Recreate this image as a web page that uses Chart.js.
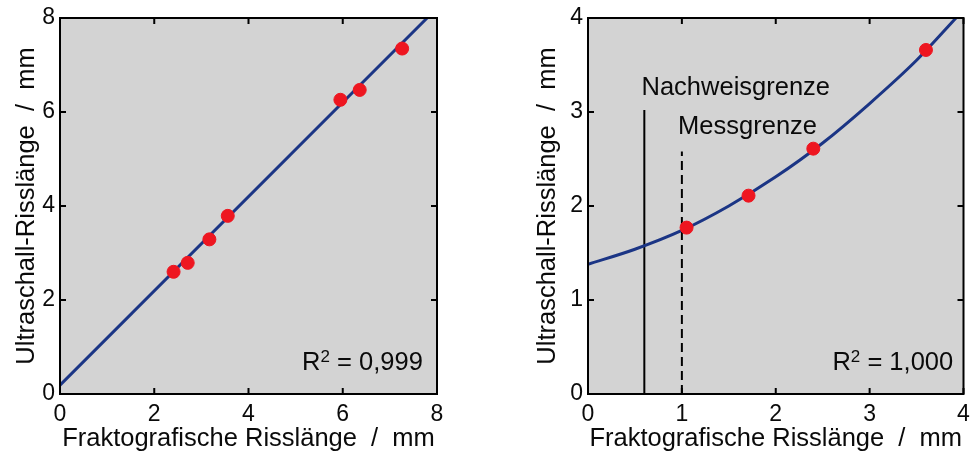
<!DOCTYPE html>
<html>
<head>
<meta charset="utf-8">
<script src="https://cdn.jsdelivr.net/npm/chart.js@4.4.0/dist/chart.umd.min.js"></script>
<style>
    body { margin: 0; background: #fff; width: 971px; height: 455px; position: relative; overflow: hidden; }
    canvas { position: absolute; top: 0; }
</style>
</head>
<body>
<canvas id="links" width="480" height="455" style="left:0px"></canvas>
<canvas id="rechts" width="450" height="455" style="left:521px"></canvas>
<script>
// linke Grafik - Messpunkte und Ausgleichsgerade
var linksX = [2.41, 2.71, 3.17, 3.56, 5.95, 6.36, 7.26];
var linksY = [2.60, 2.79, 3.29, 3.79, 6.26, 6.47, 7.35];
var linksFitX = [0, 7.79];
var linksFitY = [0.19, 8.0];
var linksTicks = [0, 2, 4, 6, 8];

// rechte Grafik - Messpunkte und Ausgleichskurve
var rechtsX = [1.05, 1.71, 2.40, 3.60];
var rechtsY = [1.77, 2.11, 2.61, 3.66];
var rechtsFitX = [0, 0.5, 1, 1.5, 2, 2.5, 3, 3.5, 3.92];
var rechtsFitY = [1.38, 1.54, 1.74, 2.00, 2.31, 2.67, 3.09, 3.55, 4.0];
var rechtsTicks = [0, 1, 2, 3, 4];
// Grenzen (x-Wert, Linienende oben)
var nachweisGrenze = [0.6, 3.02];
var messGrenze = [1.0, 2.58];

var xTitel = "Fraktografische Risslänge  /  mm";
var yTitel = "Ultraschall-Risslänge  /  mm";

Chart.defaults.font.family = '"Liberation Sans", Arial, sans-serif';
Chart.defaults.color = '#0a0a0a';

var schrift = '"Liberation Sans", Arial, sans-serif';

function punkte(xs, ys) {
    return xs.map(function (x, i) { return {x: x, y: ys[i]}; });
}

// R^2-Text mit hochgestellter 2, rechtsbündig
function zeichneR2(ctx, wert, xr, y) {
    var gross = '25.5px ' + schrift, klein = '17px ' + schrift;
    var rest = ' = ' + wert;
    ctx.font = gross;
    var wR = ctx.measureText('R').width, wRest = ctx.measureText(rest).width;
    ctx.font = klein;
    var w2 = ctx.measureText('2').width;
    var x = xr - wR - w2 - wRest;
    ctx.textAlign = 'left';
    ctx.font = gross;
    ctx.fillText('R', x, y);
    ctx.font = klein;
    ctx.fillText('2', x + wR, y - 6);
    ctx.font = gross;
    ctx.fillText(rest, x + wR + w2, y);
}

var rahmenPlugin = {
    id: 'rahmen',
    beforeDraw: function (chart) {
        var a = chart.chartArea, ctx = chart.ctx;
        ctx.save();
        ctx.fillStyle = '#d3d3d3';
        ctx.fillRect(a.left, a.top, a.right - a.left, a.bottom - a.top);
        ctx.restore();
    },
    afterDatasetsDraw: function (chart, args, opts) {
        var a = chart.chartArea, ctx = chart.ctx;
        var sx = chart.scales.x, sy = chart.scales.y;
        ctx.save();
        ctx.strokeStyle = '#000';
        ctx.lineWidth = 2;
        ctx.strokeRect(a.left, a.top, a.right - a.left, a.bottom - a.top);
        // Ticks nach innen, alle vier Seiten
        ctx.beginPath();
        sx.ticks.forEach(function (t) {
            var p = sx.getPixelForValue(t.value);
            ctx.moveTo(p, a.bottom); ctx.lineTo(p, a.bottom - 6);
            ctx.moveTo(p, a.top); ctx.lineTo(p, a.top + 6);
        });
        sy.ticks.forEach(function (t) {
            var p = sy.getPixelForValue(t.value);
            ctx.moveTo(a.left, p); ctx.lineTo(a.left + 6, p);
            ctx.moveTo(a.right, p); ctx.lineTo(a.right - 6, p);
        });
        ctx.stroke();
        // Beschriftungen
        ctx.fillStyle = '#0a0a0a';
        ctx.font = '25.5px ' + schrift;
        ctx.textBaseline = 'middle';
        (opts.texte || []).forEach(function (t) {
            ctx.textAlign = t.align;
            ctx.fillText(t.text, sx.getPixelForValue(t.x), sy.getPixelForValue(t.y));
        });
        if (opts.r2) {
            zeichneR2(ctx, opts.r2.wert, sx.getPixelForValue(opts.r2.x), sy.getPixelForValue(opts.r2.y));
        }
        ctx.restore();
    }
};

function makeScales(xmax, ymax, step, yBreite) {
    return {
        x: {
            type: 'linear', min: 0, max: xmax,
            ticks: {stepSize: step, maxRotation: 0, padding: 7, font: {size: 23}},
            grid: {display: false, drawTicks: false},
            border: {display: false},
            title: {display: true, text: xTitel, font: {size: 25.5}, padding: {top: 0, bottom: 1}},
            afterFit: function (s) { s.height = 61; s.paddingLeft = 0; s.paddingRight = 0; }
        },
        y: {
            type: 'linear', min: 0, max: ymax,
            ticks: {stepSize: step, padding: 5, font: {size: 23}},
            grid: {display: false, drawTicks: false},
            border: {display: false},
            title: {display: true, text: yTitel, font: {size: 25.5}, padding: {top: 12, bottom: 0}},
            afterFit: function (s) { s.width = yBreite; s.paddingTop = 0; s.paddingBottom = 0; }
        }
    };
}

var blau = '#1b3585';
var rot = '#ee1620';

new Chart(document.getElementById('links'), {
    type: 'scatter',
    data: {
        datasets: [{
                data: punkte(linksX, linksY),
                backgroundColor: rot, borderColor: rot,
                pointRadius: 6.5, order: 0
            }, {
                data: punkte(linksFitX, linksFitY),
                showLine: true, borderColor: blau, borderWidth: 3,
                pointRadius: 0, order: 1
            }]
    },
    options: {
        responsive: false, animation: false, devicePixelRatio: 1,
        layout: {padding: {top: 18, right: 43, left: 0, bottom: 0}},
        scales: makeScales(8, 8, 2, 60),
        plugins: {
            legend: {display: false}, tooltip: {enabled: false},
            rahmen: {r2: {wert: '0,999', x: 7.7, y: 0.66}}
        }
    },
    plugins: [rahmenPlugin]
});

new Chart(document.getElementById('rechts'), {
    type: 'scatter',
    data: {
        datasets: [{
                data: punkte(rechtsX, rechtsY),
                backgroundColor: rot, borderColor: rot,
                pointRadius: 6.5, order: 0
            }, {
                data: punkte(rechtsFitX, rechtsFitY),
                showLine: true, borderColor: blau, borderWidth: 3,
                cubicInterpolationMode: 'monotone',
                pointRadius: 0, order: 1
            }, {
                data: [{x: nachweisGrenze[0], y: 0}, {x: nachweisGrenze[0], y: nachweisGrenze[1]}],
                showLine: true, borderColor: '#000', borderWidth: 2,
                pointRadius: 0, order: 2
            }, {
                data: [{x: messGrenze[0], y: 0}, {x: messGrenze[0], y: messGrenze[1]}],
                showLine: true, borderColor: '#000', borderWidth: 2, borderDash: [9, 5],
                pointRadius: 0, order: 2
            }]
    },
    options: {
        responsive: false, animation: false, devicePixelRatio: 1,
        layout: {padding: {top: 18, right: 6, left: 0, bottom: 0}},
        scales: makeScales(4, 4, 1, 67),
        plugins: {
            legend: {display: false}, tooltip: {enabled: false},
            rahmen: {
                texte: [
                    {text: 'Nachweisgrenze', x: 0.57, y: 3.26, align: 'left'},
                    {text: 'Messgrenze', x: 0.96, y: 2.84, align: 'left'}
                ],
                r2: {wert: '1,000', x: 3.89, y: 0.33}
            }
        }
    },
    plugins: [rahmenPlugin]
});
</script>
</body>
</html>
